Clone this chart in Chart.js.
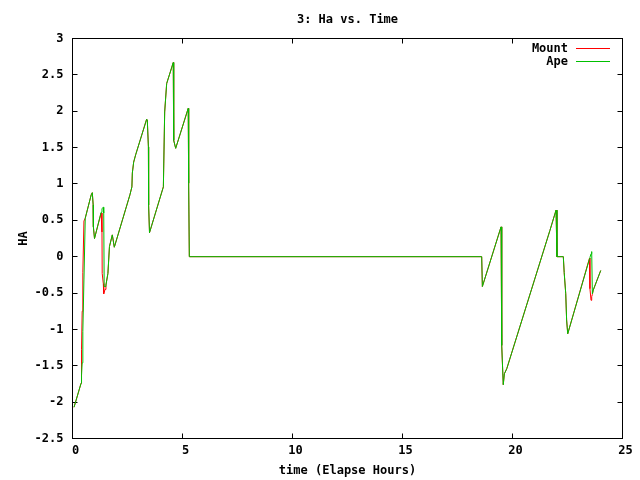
<!DOCTYPE html>
<html>
<head>
<meta charset="utf-8">
<script src="https://cdn.jsdelivr.net/npm/chart.js@4.4.1/dist/chart.umd.min.js"></script>
<style>
  html, body { margin: 0; padding: 0; background: #fff; }
  #wrap { width: 640px; height: 480px; }
</style>
</head>
<body>
<div id="wrap"><canvas id="haChart" width="640" height="480"></canvas></div>
<script>
// elapsed hours, shared by both series
const hours = [
  0.07, 0.39, 0.41, 0.44, 0.47, 0.52, 0.58, 0.85, 0.90, 0.94, 0.95, 1.00,
  1.30, 1.34, 1.35, 1.40, 1.42, 1.44, 1.48, 1.52, 1.61, 1.68, 1.81, 1.90,
  2.61, 2.70, 2.72, 2.78, 2.87, 3.37, 3.40, 3.45, 3.46, 3.50, 4.13, 4.19,
  4.28, 4.58, 4.60, 4.69, 5.26, 5.28, 5.31, 18.60, 18.63, 19.48, 19.51, 19.58,
  19.63, 19.74, 21.70, 21.98, 22.02, 22.31, 22.35, 22.42, 22.46, 22.51, 23.50, 23.52,
  23.57, 23.60, 23.63, 23.67, 24.01
];
const mountHA = [
  -2.07, -1.74, -1.28, -0.75, -0.22, 0.49, 0.53, 0.85, 0.88, 0.71, 0.41, 0.25,
  0.60, 0.34, -0.23, -0.37, -0.51, -0.49, -0.45, -0.39, -0.23, 0.14, 0.30, 0.13,
  0.85, 0.96, 1.15, 1.30, 1.40, 1.89, 1.88, 1.51, 0.71, 0.33, 0.96, 1.99,
  2.38, 2.67, 1.60, 1.49, 2.04, 1.01, 0.00, 0.00, -0.41, 0.41, -1.22, -1.76,
  -1.61, -1.54, 0.36, 0.64, 0.00, 0.00, -0.22, -0.51, -0.87, -1.06, -0.02, -0.44,
  -0.60, -0.55, -0.52, -0.46, -0.19
];
const apeHA = [
  -2.07, -1.74, -1.63, -1.46, -1.03, -0.32, 0.53, 0.85, 0.88, 0.71, 0.41, 0.25,
  0.61, 0.66, 0.665, 0.68, 0.60, -0.41, -0.41, -0.39, -0.23, 0.14, 0.30, 0.13,
  0.85, 0.96, 1.15, 1.30, 1.40, 1.89, 1.88, 1.51, 0.71, 0.33, 0.96, 1.99,
  2.38, 2.67, 1.60, 1.49, 2.04, 1.01, 0.00, 0.00, -0.41, 0.41, -1.22, -1.76,
  -1.61, -1.54, 0.36, 0.64, 0.00, 0.00, -0.22, -0.51, -0.87, -1.06, -0.03, -0.01,
  0.04, 0.07, -0.51, -0.46, -0.19
];
const xTicks = [0, 5, 10, 15, 20, 25];
const yTicks = [-2.5, -2, -1.5, -1, -0.5, 0, 0.5, 1, 1.5, 2, 2.5, 3];

const FONT = "bold 12px 'DejaVu Sans Mono', monospace";

function toPoints(vals) {
  return hours.map((h, i) => ({ x: h, y: vals[i] }));
}

// gnuplot style frame: box border, inward ticks on all four sides, title, labels, key
const gnuFrame = {
  id: "gnuFrame",
  beforeDatasetsDraw(chart) {
    const { ctx, chartArea: a, scales } = chart;
    ctx.save();
    ctx.strokeStyle = "#000";
    ctx.lineWidth = 1;
    ctx.strokeRect(a.left, a.top, a.right - a.left, a.bottom - a.top);
    ctx.beginPath();
    scales.x.ticks.forEach((t) => {
      const px = Math.round(scales.x.getPixelForValue(t.value) - 0.5) + 0.5;
      ctx.moveTo(px, a.bottom); ctx.lineTo(px, a.bottom - 5);
      ctx.moveTo(px, a.top); ctx.lineTo(px, a.top + 5);
    });
    scales.y.ticks.forEach((t) => {
      const py = Math.round(scales.y.getPixelForValue(t.value) - 0.5) + 0.5;
      ctx.moveTo(a.left, py); ctx.lineTo(a.left + 5, py);
      ctx.moveTo(a.right, py); ctx.lineTo(a.right - 5, py);
    });
    ctx.stroke();

    // x tick labels sit a little right of their ticks, as gnuplot draws them
    ctx.font = FONT;
    ctx.fillStyle = "#000";
    ctx.textAlign = "center";
    ctx.textBaseline = "middle";
    scales.x.ticks.forEach((t) => {
      ctx.fillText(String(t.value), scales.x.getPixelForValue(t.value) + 3, 451);
    });
    ctx.restore();
  },
  afterDraw(chart) {
    const { ctx, chartArea: a } = chart;
    const cx = (a.left + a.right) / 2;
    ctx.save();
    ctx.font = FONT;
    ctx.fillStyle = "#000";
    ctx.textBaseline = "middle";
    ctx.textAlign = "center";
    ctx.fillText("3: Ha vs. Time", cx, 20);
    ctx.fillText("time (Elapse Hours)", cx, 471);
    ctx.save();
    ctx.translate(24, (a.top + a.bottom) / 2);
    ctx.rotate(-Math.PI / 2);
    ctx.fillText("HA", 0, 0);
    ctx.restore();

    // key, top right inside the plot
    ctx.textAlign = "right";
    chart.data.datasets.forEach((ds, i) => {
      const yy = 49 + i * 13;
      ctx.fillStyle = "#000";
      ctx.fillText(ds.label, 568, yy);
      ctx.strokeStyle = ds.borderColor;
      ctx.lineWidth = 1;
      ctx.beginPath();
      ctx.moveTo(576, yy - 0.5);
      ctx.lineTo(610, yy - 0.5);
      ctx.stroke();
    });
    ctx.restore();
  },
};

new Chart(document.getElementById("haChart"), {
  type: "line",
  data: {
    datasets: [
      {
        label: "Mount",
        data: toPoints(mountHA),
        borderColor: "#ff0000",
        borderWidth: 1,
        pointRadius: 0,
        tension: 0,
        order: 1,
      },
      {
        label: "Ape",
        data: toPoints(apeHA),
        borderColor: "#00c000",
        borderWidth: 1,
        pointRadius: 0,
        tension: 0,
        order: 0,
      },
    ],
  },
  options: {
    responsive: false,
    animation: false,
    devicePixelRatio: 1,
    layout: { padding: { top: 38.5, right: 17.5, left: 0, bottom: 0 } },
    plugins: {
      legend: { display: false },
      title: { display: false },
      tooltip: { enabled: false },
    },
    scales: {
      x: {
        type: "linear",
        min: 0,
        max: 25,
        afterBuildTicks: (s) => { s.ticks = xTicks.map((v) => ({ value: v })); },
        afterFit: (s) => { s.height = 41.5; },
        grid: { display: false, drawTicks: false },
        border: { display: false },
        ticks: { display: false },
      },
      y: {
        type: "linear",
        min: -2.5,
        max: 3,
        afterBuildTicks: (s) => { s.ticks = yTicks.map((v) => ({ value: v })); },
        afterFit: (s) => { s.width = 72.5; },
        grid: { display: false, drawTicks: false },
        border: { display: false },
        ticks: {
          padding: 9,
          color: "#000",
          font: { family: "'DejaVu Sans Mono', monospace", size: 12, weight: "bold" },
          callback: (v) => String(v),
        },
      },
    },
  },
  plugins: [gnuFrame],
});
</script>
</body>
</html>
